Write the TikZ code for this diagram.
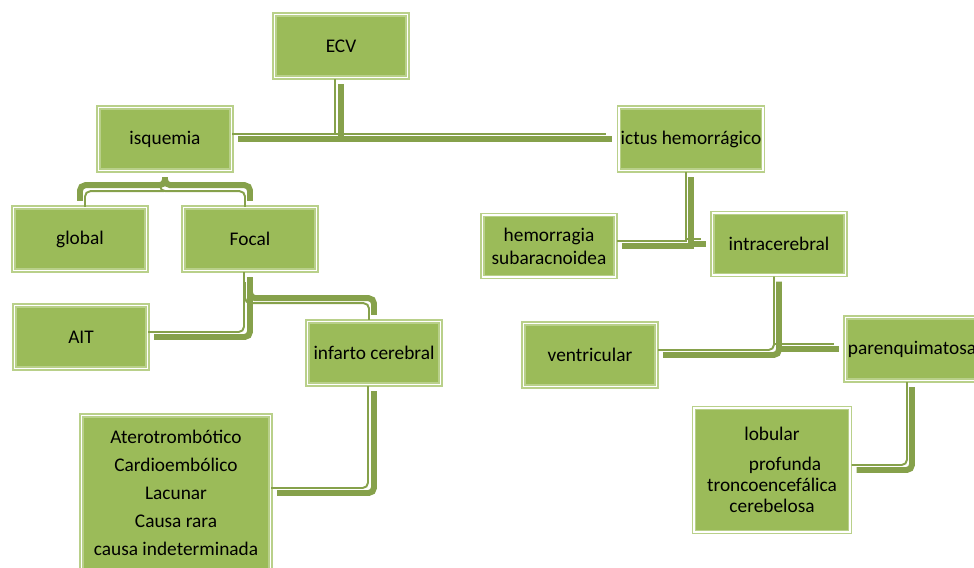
\documentclass[tikz,border=0pt]{standalone}
\usepackage{fontspec}
\setmainfont{Carlito}
\usetikzlibrary{calc}
\definecolor{boxfill}{HTML}{9BBB59}
\definecolor{boxedge}{HTML}{B9D08A}
\definecolor{linecol}{HTML}{86A14B}
\begin{document}
\begin{tikzpicture}[x=0.02cm, y=-0.02cm]
    \tikzstyle{box}=[draw=boxedge, double=white, double distance=1.1pt, line width=0.8pt,
      fill=boxfill, minimum width=2.66cm, minimum height=1.26cm, inner sep=1pt,
      align=center, font=\fontsize{11}{13}\selectfont]
    \tikzstyle{link}=[draw=linecol, line width=3.4pt,
      shorten <=0.12cm, shorten >=0.12cm]
    \tikzstyle{round}=[rounded corners=3pt]
    \tikzset{linkthin/.style={draw=linecol, line width=1.1pt,
      shorten <=0.12cm, shorten >=0.12cm, transform canvas={shift={(#1)}}}}

    \useasboundingbox (0,0) rectangle (974,568);
    \clip (0,0) rectangle (974,568);

    % left branch
    \node[box] (ecv) at (341,46) {ECV};
    \node[box] (isq) at (165,139) {isquemia};
    \node[box] (glob) at (80,239) {global};
    \node[box] (focal) at (250,239) {Focal};
    \node[box] (ait) at (81,337) {AIT};
    \node[box] (infarto) at (374,353) {infarto cerebral};
    \node[box, minimum width=3.78cm, minimum height=3.1cm] (causas) at (176,493)
      {Aterotrombótico\\[3pt] Cardioembólico\\[3pt] Lacunar\\[3pt] Causa rara\\[3pt] causa indeterminada};

    % right branch
    \node[box] (ictus) at (691,139) {ictus hemorrágico};
    \node[box, minimum height=1.24cm] (hsa) at (549,246) {hemorragia\\ subaracnoidea};
    \node[box, minimum height=1.24cm] (intra) at (779,244) {intracerebral};
    \node[box] (vent) at (590,355) {ventricular};
    \node[box] (paren) at (912,349) {parenquimatosa};
    \node[box, minimum width=3.12cm, minimum height=2.48cm,
      font=\fontsize{11}{12}\selectfont] (lobular) at (772,470)
      {lobular\\[5pt] \hspace*{1.35em}profunda\\ troncoencefálica\\ cerebelosa};

    \draw[link] (ecv.south) |- (isq.east);
    \draw[link] (ecv.south) |- (ictus.west);
    \draw[linkthin={-6,-5}] (ecv.south) |- (isq.east);
    \draw[linkthin={-6,-5}] (ecv.south) |- (ictus.west);

    \draw[link] (glob.north) [round] |- ($(isq.south)+(0,14)$) [sharp corners] -- (isq.south);
    \draw[link] (focal.north) [round] |- ($(isq.south)+(0,14)$) [sharp corners] -- (isq.south);
    \draw[linkthin={5,6}] (glob.north) [round] |- ($(isq.south)+(0,14)$);
    \draw[linkthin={-5,6}] (focal.north) [round] |- ($(isq.south)+(0,14)$) [sharp corners] -- (isq.south);

    \draw[link, round] (focal.south) |- (ait.east);
    \draw[link] (infarto.north) [round] |- ($(focal.south)+(0,27)$) [sharp corners] -- (focal.south);
    \draw[linkthin={-6,-5}, round] (focal.south) |- (ait.east);
    \draw[linkthin={-5,5}] (infarto.north) [round] |- ($(focal.south)+(0,27)$) [sharp corners] -- (focal.south);

    \draw[link, round] (infarto.south) |- (causas.east);
    \draw[linkthin={-6,-5}, round] (infarto.south) |- (causas.east);

    \draw[link] (ictus.south) |- (hsa.east);
    \draw[link] (ictus.south) |- (intra.west);
    \draw[linkthin={-5,-5}] (ictus.south) |- (hsa.east);
    \draw[linkthin={-5,-5}] (ictus.south) |- (intra.west);

    \draw[link, round] (intra.south) |- (vent.east);
    \draw[link] (intra.south) |- (paren.west);
    \draw[linkthin={-5,-5}, round] (intra.south) |- (vent.east);
    \draw[linkthin={-5,-5}] (intra.south) |- (paren.west);

    \draw[link, round] (paren.south) |- (lobular.east);
    \draw[linkthin={-5,-5}, round] (paren.south) |- (lobular.east);
  \end{tikzpicture}
\end{document}
